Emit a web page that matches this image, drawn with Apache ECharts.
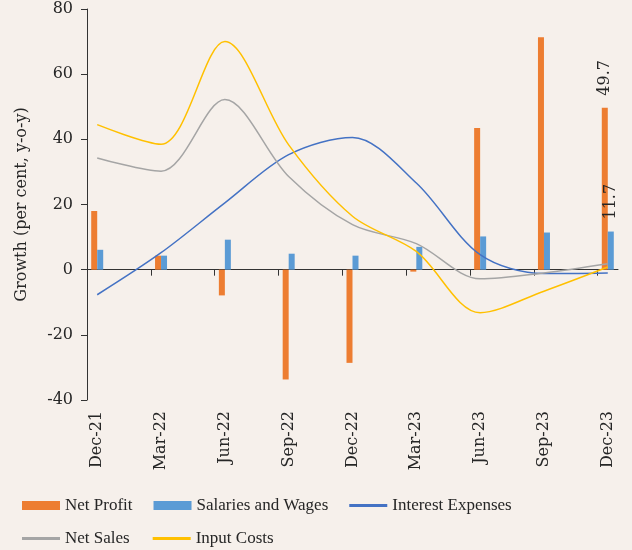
<!DOCTYPE html>
<html><head><meta charset="utf-8">
<script src="https://cdn.jsdelivr.net/npm/echarts@6/dist/echarts.min.js"></script>
<style>html,body{margin:0;padding:0;background:#F6F0EB}#c{width:632px;height:550px}</style>
</head><body><div id="c"></div>
<script>
const categories = ['Dec-21','Mar-22','Jun-22','Sep-22','Dec-22','Mar-23','Jun-23','Sep-23','Dec-23'];
const netProfit   = [18.0, 4.3, -7.9, -33.7, -28.6, -0.6, 43.5, 71.3, 49.7];
const salaries    = [6.1, 4.3, 9.2, 4.9, 4.3, 7.0, 10.2, 11.4, 11.7];
const interestExp = [-7.7, 5.2, 20.5, 35.3, 40.6, 26.6, 4.6, -1.2, -1.0];
const netSales    = [34.3, 30.2, 52.2, 28.6, 13.8, 8.0, -2.8, -1.0, 1.8];
const inputCosts  = [44.5, 38.5, 70.0, 38.3, 16.4, 5.6, -13.2, -6.6, 0.8];
const yTicks = [-40, -20, 0, 20, 40, 60, 80];
const labelledIndex = categories.length - 1;

const FONT = 'DejaVu Serif';
const LFONT = 'Liberation Serif';
const TXT = '#262626';
const pad = 0.16;
const idx = categories.map((c, i) => i);
const toPts = (arr, withLabel) => arr.map((v, i) => {
  const d = { value: [i, v] };
  if (withLabel && i === labelledIndex) d.label = { show: true };
  return d;
});
const barLabel = {
  show: false, position: 'top', rotate: 90, align: 'left', verticalAlign: 'middle',
  distance: 12, fontFamily: FONT, fontSize: 16, color: TXT,
  formatter: p => p.value[1].toFixed(1)
};
const xBase = { type: 'value', min: -pad, max: categories.length - 1 + pad, splitLine: { show: false } };
const lineIcon = 'path://M0,0H40V3H0Z';
const SMOOTH = 0.32;

const chart = echarts.init(document.getElementById('c'));
chart.setOption({
  backgroundColor: '#F6F0EB',
  animation: false,
  grid: { left: 87, right: 14, top: 9, bottom: 150, containLabel: false },
  xAxis: [
    Object.assign({}, xBase, {
      axisLine: { show: true, onZero: true, lineStyle: { color: '#333', width: 1 } },
      axisTick: { show: true, length: 6, lineStyle: { color: '#333' }, customValues: idx.map(i => i - pad) },
      axisLabel: { show: false }
    }),
    Object.assign({}, xBase, {
      position: 'bottom',
      axisLine: { show: false, onZero: false },
      axisTick: { show: false },
      axisLabel: {
        show: true, rotate: 90, margin: 11, fontFamily: FONT, fontSize: 16, color: TXT,
        customValues: idx, formatter: v => categories[Math.round(v)]
      }
    })
  ],
  yAxis: {
    type: 'value', min: yTicks[0], max: yTicks[yTicks.length - 1], interval: 20,
    name: 'Growth (per cent, y-o-y)', nameLocation: 'middle', nameGap: 57,
    nameTextStyle: { fontFamily: FONT, fontSize: 16, color: TXT },
    axisLine: { show: true, onZero: false, lineStyle: { color: '#333' } },
    axisTick: { show: true, length: 6, lineStyle: { color: '#333' } },
    axisLabel: { margin: 14, fontFamily: FONT, fontSize: 16, color: TXT },
    splitLine: { show: false }
  },
  legend: [
    {
      left: 22, top: 497, padding: 0, itemWidth: 38, itemHeight: 9, itemGap: 21,
      textStyle: { fontFamily: LFONT, fontSize: 17, color: TXT },
      itemStyle: { borderWidth: 0 },
      data: [
        { name: 'Net Profit', icon: 'rect' },
        { name: 'Salaries and Wages', icon: 'rect' },
        { name: 'Interest Expenses', icon: lineIcon }
      ]
    },
    {
      left: 22, top: 530, padding: 0, itemWidth: 38, itemHeight: 9, itemGap: 23,
      textStyle: { fontFamily: LFONT, fontSize: 17, color: TXT },
      itemStyle: { borderWidth: 0 },
      data: [
        { name: 'Net Sales', icon: lineIcon },
        { name: 'Input Costs', icon: lineIcon }
      ]
    }
  ],
  series: [
    { name: 'Net Profit', type: 'bar', barWidth: 6, barGap: '0%', color: '#ED7D31',
      label: barLabel, data: toPts(netProfit, true) },
    { name: 'Salaries and Wages', type: 'bar', barWidth: 6, barGap: '0%', color: '#5B9BD5',
      label: barLabel, data: toPts(salaries, true) },
    { name: 'Interest Expenses', type: 'line', smooth: SMOOTH, symbol: 'none', color: '#4472C4',
      lineStyle: { width: 1.5 }, data: toPts(interestExp) },
    { name: 'Net Sales', type: 'line', smooth: SMOOTH, symbol: 'none', color: '#A5A5A5',
      lineStyle: { width: 1.5 }, data: toPts(netSales) },
    { name: 'Input Costs', type: 'line', smooth: SMOOTH, symbol: 'none', color: '#FFC000',
      lineStyle: { width: 1.5 }, data: toPts(inputCosts) }
  ]
});
</script></body></html>
